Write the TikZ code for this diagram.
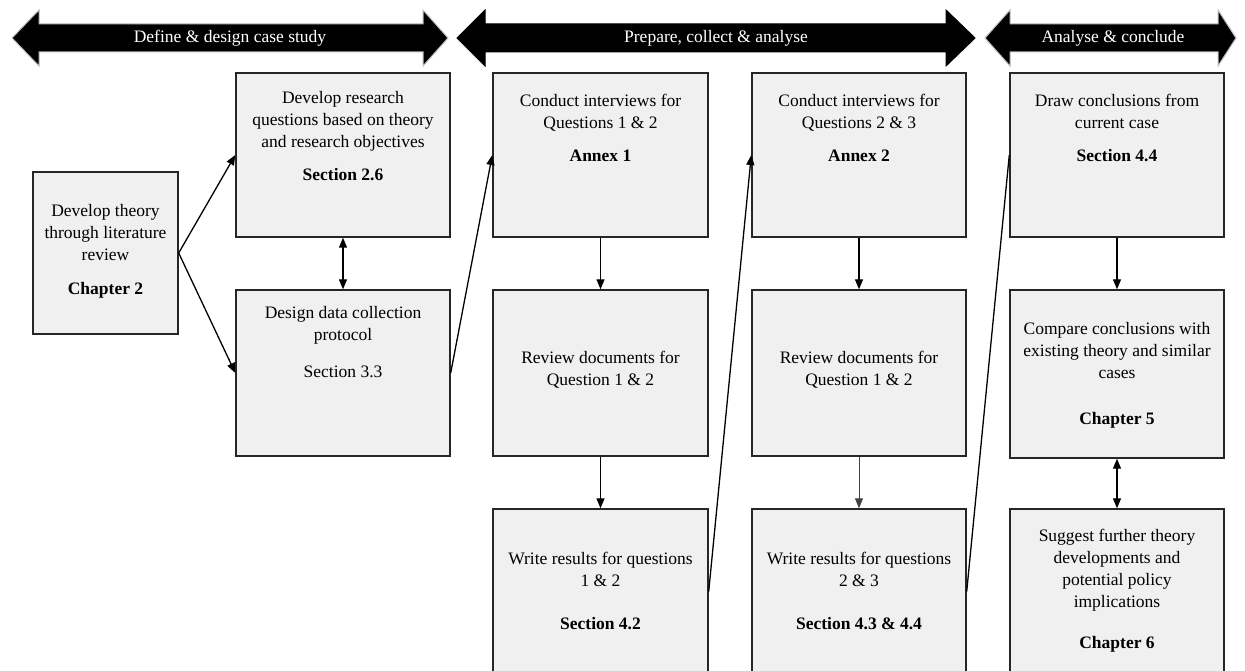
\documentclass[tikz,border=0pt]{standalone}
\usepackage{fontspec}
\setmainfont{Liberation Serif}
\usetikzlibrary{arrows.meta,fit}
\begin{document}
\begin{tikzpicture}[x=1pt,y=-1pt,
  panel/.style={draw=black!85, line width=1.4pt, fill=black!6, inner sep=0pt},
  txt/.style={align=center, font=\fontsize{17.5}{22}\selectfont, inner sep=0pt},
  phase/.style={fill=black, draw=black!25, line width=1pt, line join=miter},
  phasetxt/.style={text=white, font=\fontsize{17.5}{22}\selectfont, inner sep=0pt},
  link/.style={line width=1.3pt, -{Triangle[length=10pt,width=8pt]}},
  twoway/.style={line width=1.3pt, {Triangle[length=10pt,width=8pt]}-{Triangle[length=10pt,width=8pt]}},
  faint/.style={line width=0.9pt, -{Triangle[length=10pt,width=8pt]}, color=black!75},
  plain/.style={line width=1.3pt}
]
\clip (0,0) rectangle (1245,671);
\fill[white] (0,0) rectangle (1245,671);

% phase banners (double-headed block arrows)
\path[phase] (12,38) -- (39,10) -- (39,24) -- (423,24) -- (423,10) -- (448,38)
  -- (423,66) -- (423,52) -- (39,52) -- (39,66) -- cycle;
\node[phasetxt] (p1) at (230,38) {Define \& design case study};
\path[phase, draw=black] (457,38) -- (485,10) -- (485,24) -- (946,24) -- (946,10) -- (975,38)
  -- (946,66) -- (946,52) -- (485,52) -- (485,66) -- cycle;
\node[phasetxt] (p2) at (716,38) {Prepare, collect \& analyse};
\path[phase] (985,38) -- (1010,10) -- (1010,24) -- (1218,24) -- (1218,10) -- (1236,38)
  -- (1218,66) -- (1218,52) -- (1010,52) -- (1010,66) -- cycle;
\node[phasetxt] (p3) at (1113,38) {Analyse \& conclude};

% step boxes
\node[panel, fit={(33,172) (178,334)}] (A) {};
\node[panel, fit={(236,73) (450,237)}] (B) {};
\node[panel, fit={(236,290) (450,456)}] (C) {};
\node[panel, fit={(493,73) (708,237)}] (D) {};
\node[panel, fit={(493,290) (708,456)}] (E) {};
\node[panel, fit={(493,509) (708,674)}] (F) {};
\node[panel, fit={(752,73) (966,237)}] (G) {};
\node[panel, fit={(752,290) (966,456)}] (H) {};
\node[panel, fit={(752,509) (966,674)}] (I) {};
\node[panel, fit={(1010,73) (1224,237)}] (J) {};
\node[panel, fit={(1010,290) (1224,458)}] (K) {};
\node[panel, fit={(1010,509) (1224,674)}] (L) {};

% box texts
\node[txt] (At) at (105.5,251) {Develop theory\\through literature\\review\\[12pt]\textbf{Chapter 2}};
\node[txt] (Bt) at (343,136.5) {Develop research\\questions based on theory\\and research objectives\\[11pt]\textbf{Section 2.6}};
\node[txt] (Ct) at (343,342.5) {Design data collection\\protocol\\[15pt]Section 3.3};
\node[txt] (Dt) at (600.5,127.5) {Conduct interviews for\\Questions 1 \& 2\\[11pt]\textbf{Annex 1}};
\node[txt] (Et) at (600.5,370) {Review documents for\\Question 1 \& 2};
\node[txt] (Ft) at (600.5,590.5) {Write results for questions\\1 \& 2\\[21pt]\textbf{Section 4.2}};
\node[txt] (Gt) at (859,127.5) {Conduct interviews for\\Questions 2 \& 3\\[11pt]\textbf{Annex 2}};
\node[txt] (Ht) at (859,370) {Review documents for\\Question 1 \& 2};
\node[txt] (It) at (859,590.5) {Write results for questions\\2 \& 3\\[21pt]\textbf{Section 4.3 \& 4.4}};
\node[txt] (Jt) at (1117,127.5) {Draw conclusions from\\current case\\[11pt]\textbf{Section 4.4}};
\node[txt] (Kt) at (1117,375) {Compare conclusions with\\existing theory and similar\\cases\\[24pt]\textbf{Chapter 5}};
\node[txt] (Lt) at (1117,591) {Suggest further theory\\developments and\\potential policy\\implications\\[19pt]\textbf{Chapter 6}};

% connectors
\draw[link] (A.east) -- (B.west);
\draw[link] (A.east) -- (C.west);
\draw[twoway] (B.south) -- (C.north);
\draw[link] (C.east) -- (D.west);
\draw[link] (D.south) -- (E.north);
\draw[link] (E.south) -- (F.north);
\draw[link] (F.east) -- (G.west);
\draw[link] (G.south) -- (H.north);
\draw[faint] (H.south) -- (I.north);
\draw[plain] (I.east) -- (J.west);
\draw[link] (J.south) -- (K.north);
\draw[twoway] (K.south) -- (L.north);
\end{tikzpicture}
\end{document}
